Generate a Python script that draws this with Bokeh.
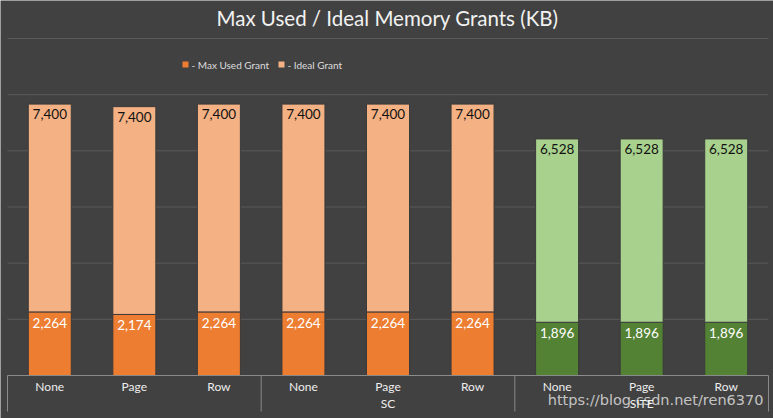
import numpy as np
from bokeh.plotting import figure
from bokeh.models import ColumnDataSource, Range1d
from bokeh.core.properties import value
from bokeh.embed import file_html
from bokeh.resources import INLINE

# ---- data ----
compression = ["None", "Page", "Row", "None", "Page", "Row", "None", "Page", "Row"]
group_labels = ["", "SC", "SITE"]
max_used = [2264, 2174, 2264, 2264, 2264, 2264, 1896, 1896, 1896]
ideal = [7400, 7400, 7400, 7400, 7400, 7400, 6528, 6528, 6528]
y_ticks = [2000, 4000, 6000, 8000, 10000, 12000]
title_text = "Max Used / Ideal Memory Grants (KB)"
series_names = ["- Max Used Grant", "- Ideal Grant"]
watermark = "https://blog.csdn.net/ren6370"

# ---- styling ----
W, H = 773, 418
BG = "#414141"
DARK = ["#ED7D31"] * 6 + ["#548235"] * 3
LIGHT = ["#F4B183"] * 6 + ["#A9D18E"] * 3
FONT = value("Lato")

left_px, right_px = 7, 768
zero_px, top_px = 375, 38
ymax = 12000
upp_y = ymax / (zero_px - top_px)
n = len(compression)
upp_x = n / (right_px - left_px)

x0 = -left_px * upp_x
x1 = n + (W - right_px) * upp_x
y1 = ymax + top_px * upp_y
y0 = -(H - zero_px) * upp_y

def px_x(px):
    return x0 + px * upp_x

def px_y(py):
    return y1 - py * upp_y

p = figure(width=W, height=H, output_backend="svg", toolbar_location=None,
           x_range=Range1d(x0, x1), y_range=Range1d(y0, y1),
           min_border=0, min_border_left=0, min_border_right=0,
           min_border_top=0, min_border_bottom=0)
p.axis.visible = False
p.grid.visible = False
p.outline_line_color = None
p.background_fill_color = BG
p.border_fill_color = BG

xs = np.arange(n) + 0.5
bottom_top = np.array(max_used)
total = bottom_top + np.array(ideal)

# gridlines
p.segment(x0=[0] * len(y_ticks), x1=[n] * len(y_ticks), y0=y_ticks, y1=y_ticks,
          line_color="#5a5a5a", line_width=1)

src = ColumnDataSource(dict(
    x=xs, used=bottom_top, tot=total,
    dark=DARK, light=LIGHT,
    used_lbl=[f"{v:,}" for v in max_used],
    ideal_lbl=[f"{v:,}" for v in ideal],
    cat=compression,
))

bw = 43 * upp_x
p.vbar(x="x", width=bw, bottom=0, top="used", source=src,
       fill_color="dark", line_color="#3a3a3a", line_width=1)
p.vbar(x="x", width=bw, bottom="used", top="tot", source=src,
       fill_color="light", line_color="#3a3a3a", line_width=1)

p.text(x="x", y="tot", text="ideal_lbl", source=src, text_font=FONT,
       text_font_size="13.5px", text_align="center", text_baseline="top",
       y_offset=5, text_color="#111111")
p.text(x="x", y="used", text="used_lbl", source=src, text_font=FONT,
       text_font_size="13.5px", text_align="center", text_baseline="top",
       y_offset=6, text_color="#ffffff")

# category axis
p.segment(x0=[0], x1=[n], y0=[0], y1=[0], line_color="#8a8a8a", line_width=1)
sep = [0, 3, 6, 9]
p.segment(x0=sep, x1=sep, y0=[0] * 4, y1=[px_y(411)] * 4,
          line_color="#8a8a8a", line_width=1)
p.text(x=xs, y=[px_y(386)] * n, text=compression, text_font=FONT,
       text_font_size="12px", text_align="center", text_baseline="middle",
       text_color="#eeeeee")
gx = np.arange(len(group_labels)) * 3 + 1.5
p.text(x=gx, y=[px_y(403)] * len(group_labels), text=group_labels, text_font=FONT,
       text_font_size="12px", text_align="center", text_baseline="middle",
       text_color="#eeeeee")

# title
p.text(x=[px_x(387)], y=[px_y(17)], text=[title_text], text_font=FONT,
       text_font_size="20.5px", text_align="center", text_baseline="middle",
       text_color="#f2f2f2")

# legend
p.scatter(x=[px_x(185), px_x(281)], y=[px_y(64)] * 2, marker="square", size=6,
          fill_color=[DARK[0], LIGHT[0]], line_color=None)
p.text(x=[px_x(191), px_x(287)], y=[px_y(64)] * 2, text=series_names, text_font=FONT,
       text_font_size="10px", text_align="left", text_baseline="middle",
       text_color="#dddddd")

# watermark
p.text(x=[px_x(763)], y=[px_y(399)], text=[watermark], text_font=value("DejaVu Sans"),
       text_font_size="14.5px", text_align="right", text_baseline="middle",
       text_color="#ffffff", text_alpha=0.7)

open("out.html", "w").write(file_html(p, INLINE))
